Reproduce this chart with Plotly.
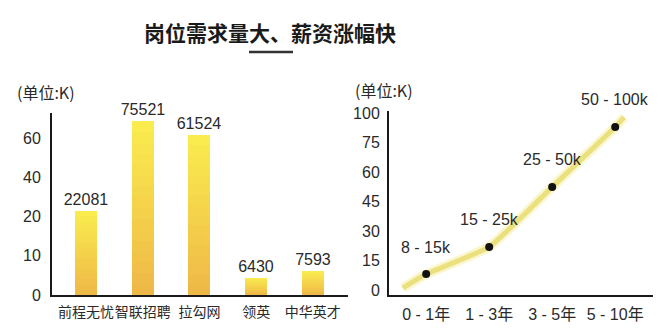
import numpy as np
import plotly.graph_objects as go

# ---------------- data ----------------
title_text = "岗位需求量大、薪资涨幅快"
unit_label = "(单位:K)"

sites = ["前程无忧", "智联招聘", "拉勾网", "领英", "中华英才"]
site_labels = ["22081", "75521", "61524", "6430", "7593"]
# bar heights, in the left axis' printed units
site_heights = [22.8, 68.6, 61.4, 4.3, 6.1]
left_ticks = [0, 10, 20, 40, 60, 80]          # printed, evenly spaced

years = ["0 - 1年", "1 - 3年", "3 - 5年", "5 - 10年"]
salary_labels = ["8 - 15k", "15 - 25k", "25 - 50k", "50 - 100k"]
salary_points = [8.1, 21.9, 52.4, 88.2]       # dot heights
right_ticks = [0, 15, 30, 45, 60, 75, 100, 125]  # printed, evenly spaced
# trend line (category position, value)
trend_x = [-0.37, 0, 1, 2, 3, 3.14]
trend_y = [1.0, 8.1, 21.9, 52.4, 88.2, 96.5]

FONT = "Liberation Sans, Arial, Noto Sans CJK SC, sans-serif"
CJK = "Noto Sans CJK SC, sans-serif"
TXT = "#2a2a2a"


def left_scale(v):
    return np.interp(v, left_ticks, np.arange(len(left_ticks)))


def right_scale(v):
    return np.interp(v, right_ticks, np.arange(len(right_ticks)))


fig = go.Figure()

# ---- left: bars with a vertical yellow->orange gradient (overlaid bars) ----
xs = np.arange(len(sites))
bar_y = left_scale(site_heights)
top_rgb = np.array([250, 236, 78])
bot_rgb = np.array([239, 182, 72])
N = 16
for k in range(N):
    frac = 1 - k / N
    c = bot_rgb + (top_rgb - bot_rgb) * frac
    fig.add_trace(go.Bar(
        x=xs, y=bar_y * frac, width=0.39,
        marker=dict(color="rgb(%d,%d,%d)" % tuple(c), line=dict(width=0)),
        text=site_labels if k == 0 else None,
        textposition="outside" if k == 0 else "none", cliponaxis=False,
        constraintext="none", textangle=0,
        textfont=dict(family=FONT, size=16, color=TXT),
        xaxis="x", yaxis="y", showlegend=False, hoverinfo="skip",
    ))

# ---- right: line ----
fig.add_trace(go.Scatter(
    x=trend_x, y=right_scale(trend_y), mode="lines",
    line=dict(color="rgba(240,232,120,0.35)", width=10, shape="spline", smoothing=0.4),
    xaxis="x2", yaxis="y2", showlegend=False, hoverinfo="skip",
))
fig.add_trace(go.Scatter(
    x=trend_x, y=right_scale(trend_y), mode="lines",
    line=dict(color="#ebe07e", width=5, shape="spline", smoothing=0.4),
    xaxis="x2", yaxis="y2", showlegend=False, hoverinfo="skip",
))
fig.add_trace(go.Scatter(
    x=np.arange(len(years)), y=right_scale(salary_points), mode="markers",
    marker=dict(color="#111111", size=8),
    xaxis="x2", yaxis="y2", showlegend=False, hoverinfo="skip",
))

annotations = [
    dict(text="<b>" + title_text + "</b>", x=270 / 670, y=1 - 32 / 332, xref="paper", yref="paper",
         xanchor="center", yanchor="middle", showarrow=False,
         font=dict(family=CJK, size=21, color="#1a1a1a")),
    dict(text=unit_label, x=15 / 670, y=1 - 92 / 332, xref="paper", yref="paper",
         xanchor="left", yanchor="middle", showarrow=False,
         font=dict(family=CJK, size=16, color=TXT)),
    dict(text=unit_label, x=353 / 670, y=1 - 90 / 332, xref="paper", yref="paper",
         xanchor="left", yanchor="middle", showarrow=False,
         font=dict(family=CJK, size=16, color=TXT)),
]
for i, (lab, val) in enumerate(zip(salary_labels, salary_points)):
    annotations.append(dict(
        text=lab, x=i, y=right_scale(val), xref="x2", yref="y2",
        xanchor="center", yanchor="middle", yshift=27, showarrow=False,
        font=dict(family=FONT, size=16, color=TXT)))

axis_common = dict(showgrid=False, zeroline=False, showline=True, linecolor="#1a1a1a",
                   linewidth=2, ticks="", fixedrange=True, automargin=False)

fig.update_layout(
    width=670, height=332,
    margin=dict(l=0, r=0, t=0, b=0, autoexpand=False),
    paper_bgcolor="white", plot_bgcolor="white",
    barmode="overlay", bargap=0,
    xaxis=dict(domain=[52 / 670, 348 / 670], range=[-0.6, 4.62],
               tickvals=list(xs), ticktext=sites, tickangle=0, ticklabelstandoff=3,
               tickfont=dict(family=CJK, size=14, color=TXT), anchor="y", **axis_common),
    yaxis=dict(domain=[37 / 332, 219 / 332], range=[0, 4.637],
               tickvals=list(range(5)), ticktext=[str(t) for t in left_ticks[:5]],
               tickfont=dict(family=FONT, size=16, color=TXT), ticklabelstandoff=6,
               anchor="x", **axis_common),
    xaxis2=dict(domain=[389 / 670, 653 / 670], range=[-0.59, 3.6],
                tickvals=list(range(len(years))), ticktext=years, tickangle=0, ticklabelstandoff=4,
                tickfont=dict(family=FONT, size=16, color=TXT), anchor="y2", **axis_common),
    yaxis2=dict(domain=[37 / 332, 221 / 332], range=[-0.17, 6.07],
                tickvals=list(range(7)), ticktext=[str(t) for t in right_ticks[:7]],
                tickfont=dict(family=FONT, size=16, color=TXT), ticklabelstandoff=4,
                anchor="x2", **axis_common),
    annotations=annotations,
    shapes=[
        dict(type="line", xref="paper", yref="paper", x0=249 / 670, x1=293 / 670,
             y0=1 - 52 / 332, y1=1 - 52 / 332, line=dict(color="#333333", width=2.5)),
    ],
)

fig.write_html("out.html", config={"displayModeBar": False})
